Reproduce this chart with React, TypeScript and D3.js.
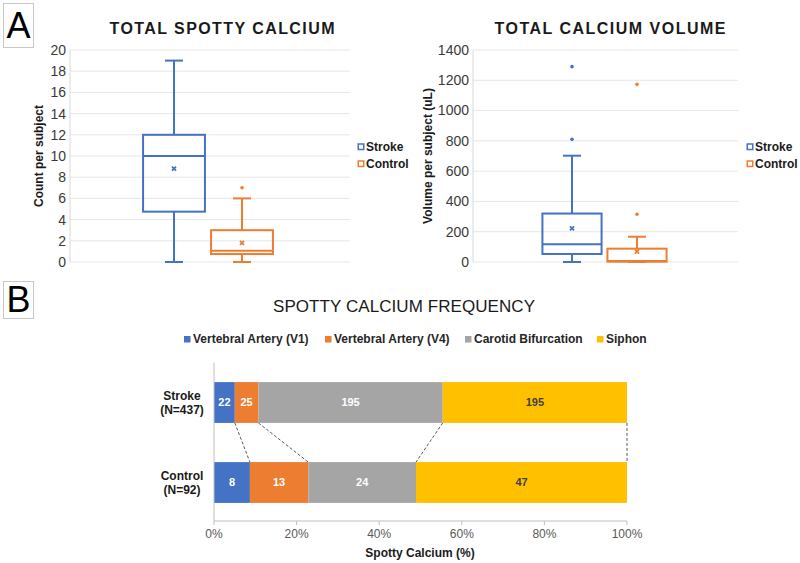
import React from "react";
import * as d3 from "d3";

const groups = ["Stroke", "Control"];
const groupColors = ["#4472C4", "#ED7D31"];

const spottyMin = [0, 0];
const spottyQ1 = [4.75, 0.75];
const spottyMedian = [10, 1.05];
const spottyQ3 = [12, 3];
const spottyMax = [19, 6];
const spottyMean = [8.8, 1.8];
const spottyOutliers: number[][] = [[], [7]];
const spottyTicks = [0, 2, 4, 6, 8, 10, 12, 14, 16, 18, 20];

const volumeMin = [0, 0];
const volumeQ1 = [53, 2];
const volumeMedian = [117, 6];
const volumeQ3 = [320, 88];
const volumeMax = [702, 167];
const volumeMean = [222, 68];
const volumeOutliers: number[][] = [[810, 1290], [315, 1173]];
const volumeTicks = [0, 200, 400, 600, 800, 1000, 1200, 1400];

const freqCategories = ["Stroke", "Control"];
const freqCategoryN = ["(N=437)", "(N=92)"];
const locations = ["Vertebral Artery (V1)", "Vertebral Artery (V4)", "Carotid Bifurcation", "Siphon"];
const locationColors = ["#4472C4", "#ED7D31", "#A5A5A5", "#FFC000"];
const locationLabelColors = ["#ffffff", "#ffffff", "#ffffff", "#404040"];
const strokeCounts = [22, 25, 195, 195];
const controlCounts = [8, 13, 24, 47];
const percentTicks = [0, 0.2, 0.4, 0.6, 0.8, 1];

const FONT = "'Liberation Sans', Arial, Helvetica, sans-serif";

type BoxProps = {
  title: string;
  titleX: number;
  titleWidth: number;
  yLabel: string;
  yLabelX: number;
  left: number;
  right: number;
  top: number;
  bottom: number;
  center: number;
  spacing: number;
  ticks: number[];
  mins: number[];
  q1s: number[];
  medians: number[];
  q3s: number[];
  maxs: number[];
  means: number[];
  outliers: number[][];
  legendX: number;
};

function BoxPanel(p: BoxProps) {
  const y = d3.scaleLinear().domain([0, d3.max(p.ticks) as number]).range([p.bottom, p.top]);
  const x = d3
    .scaleBand<string>()
    .domain(groups)
    .range([p.center - p.spacing, p.center + p.spacing])
    .padding(0);
  const bw = x.bandwidth();
  const boxW = bw * 0.91;
  const capW = 18;
  return (
    <g>
      <text
        x={p.titleX}
        y={34}
        textAnchor="middle"
        fontFamily={FONT}
        fontWeight="bold"
        fontSize={16}
        fill="#1a1a1a"
        textLength={p.titleWidth}
        lengthAdjust="spacing"
      >
        {p.title}
      </text>
      {p.ticks.map((t) => (
        <g key={t}>
          <line x1={p.left} x2={p.right} y1={y(t)} y2={y(t)} stroke="#e6e6e6" strokeWidth={1} />
          <text
            x={p.left - 4}
            y={y(t)}
            dy="0.35em"
            textAnchor="end"
            fontFamily={FONT}
            fontSize={14}
            fill="#3a3a3a"
          >
            {t}
          </text>
        </g>
      ))}
      <line x1={p.left} x2={p.left} y1={p.top} y2={p.bottom} stroke="#d9d9d9" strokeWidth={1} />
      <text
        transform={`translate(${p.yLabelX},${(p.top + p.bottom) / 2}) rotate(-90)`}
        textAnchor="middle"
        dy="0.35em"
        fontFamily={FONT}
        fontWeight="bold"
        fontSize={12}
        fill="#1a1a1a"
      >
        {p.yLabel}
      </text>
      {groups.map((g, i) => {
        const cx = (x(g) as number) + bw / 2;
        const c = groupColors[i];
        const m = y(p.means[i]);
        return (
          <g key={g} stroke={c} fill="none" strokeWidth={2}>
            <line x1={cx} x2={cx} y1={y(p.q3s[i])} y2={y(p.maxs[i])} />
            <line x1={cx} x2={cx} y1={y(p.q1s[i])} y2={y(p.mins[i])} />
            <line x1={cx - capW / 2} x2={cx + capW / 2} y1={y(p.maxs[i])} y2={y(p.maxs[i])} />
            <line x1={cx - capW / 2} x2={cx + capW / 2} y1={y(p.mins[i])} y2={y(p.mins[i])} />
            <rect
              x={cx - boxW / 2}
              y={y(p.q3s[i])}
              width={boxW}
              height={y(p.q1s[i]) - y(p.q3s[i])}
            />
            <line x1={cx - boxW / 2} x2={cx + boxW / 2} y1={y(p.medians[i])} y2={y(p.medians[i])} />
            <path d={`M${cx - 2},${m - 2}L${cx + 2},${m + 2}M${cx - 2},${m + 2}L${cx + 2},${m - 2}`} strokeWidth={1.8} />
            {p.outliers[i].map((o, k) => (
              <circle key={k} cx={cx} cy={y(o)} r={1.8} fill={c} stroke="none" />
            ))}
          </g>
        );
      })}
      {groups.map((g, i) => (
        <g key={"leg" + g}>
          <rect
            x={p.legendX + 0.75}
            y={144 + i * 17}
            width={5.5}
            height={5.5}
            fill="none"
            stroke={groupColors[i]}
            strokeWidth={1.5}
          />
          <text
            x={p.legendX + 8.5}
            y={147 + i * 17}
            dy="0.35em"
            fontFamily={FONT}
            fontWeight="bold"
            fontSize={12}
            fill="#1a1a1a"
          >
            {g}
          </text>
        </g>
      ))}
    </g>
  );
}

function FrequencyPanel() {
  const x = d3.scaleLinear().domain([0, 1]).range([214, 627]);
  const y = d3.scalePoint<string>().domain(freqCategories).range([362.5, 522.5]).padding(0.5);
  const barH = y.step() * 0.51;
  const rows = [strokeCounts, controlCounts];
  const stacks = rows.map((counts) => {
    const total = d3.sum(counts);
    let acc = 0;
    return counts.map((v) => {
      const s = acc / total;
      acc += v;
      return { v, s, e: acc / total };
    });
  });
  const legendXs = [184, 325, 465, 597];
  const yS = y("Stroke") as number;
  const yC = y("Control") as number;
  return (
    <g>
      <text
        x={404}
        y={312}
        textAnchor="middle"
        fontFamily={FONT}
        fontSize={17}
        fill="#1a1a1a"
        textLength={262}
        lengthAdjust="spacing"
      >
        SPOTTY CALCIUM FREQUENCY
      </text>
      {locations.map((l, i) => (
        <g key={l}>
          <rect x={legendXs[i]} y={336} width={6.5} height={6.5} fill={locationColors[i]} />
          <text
            x={legendXs[i] + 9}
            y={339}
            dy="0.35em"
            fontFamily={FONT}
            fontWeight="bold"
            fontSize={12}
            fill="#262626"
          >
            {l}
          </text>
        </g>
      ))}
      {freqCategories.map((c, r) => {
        const cy = y(c) as number;
        return (
          <g key={c}>
            {stacks[r].map((d, i) => (
              <g key={i}>
                <rect
                  x={x(d.s)}
                  y={cy - barH / 2}
                  width={x(d.e) - x(d.s)}
                  height={barH}
                  fill={locationColors[i]}
                />
                <text
                  x={(x(d.s) + x(d.e)) / 2}
                  y={cy}
                  dy="0.35em"
                  textAnchor="middle"
                  fontFamily={FONT}
                  fontWeight="bold"
                  fontSize={11}
                  fill={locationLabelColors[i]}
                >
                  {d.v}
                </text>
              </g>
            ))}
            <text
              x={182}
              y={cy - 7}
              dy="0.35em"
              textAnchor="middle"
              fontFamily={FONT}
              fontWeight="bold"
              fontSize={12}
              fill="#1a1a1a"
            >
              {c}
            </text>
            <text
              x={182}
              y={cy + 7.5}
              dy="0.35em"
              textAnchor="middle"
              fontFamily={FONT}
              fontWeight="bold"
              fontSize={12}
              fill="#1a1a1a"
            >
              {freqCategoryN[r]}
            </text>
          </g>
        );
      })}
      {stacks[0].map((d, i) => (
        <line
          key={"c" + i}
          x1={x(d.e)}
          y1={yS + barH / 2}
          x2={x(stacks[1][i].e)}
          y2={yC - barH / 2}
          stroke="#595959"
          strokeWidth={1}
          strokeDasharray="3,2"
        />
      ))}
      <line x1={214} x2={214} y1={362.5} y2={521} stroke="#bfbfbf" strokeWidth={1} />
      <line x1={214} x2={627} y1={521} y2={521} stroke="#bfbfbf" strokeWidth={1} />
      {percentTicks.map((t) => (
        <g key={t}>
          <line x1={x(t)} x2={x(t)} y1={521} y2={525} stroke="#bfbfbf" strokeWidth={1} />
          <text
            x={x(t)}
            y={538}
            textAnchor="middle"
            fontFamily={FONT}
            fontSize={12}
            fill="#595959"
          >
            {d3.format(".0%")(t)}
          </text>
        </g>
      ))}
      <text
        x={420}
        y={557}
        textAnchor="middle"
        fontFamily={FONT}
        fontWeight="bold"
        fontSize={12}
        fill="#1a1a1a"
      >
        Spotty Calcium (%)
      </text>
    </g>
  );
}

function PanelLetter({ letter, y0, h }: { letter: string; y0: number; h: number }) {
  return (
    <g>
      <rect x={3.5} y={y0 + 0.5} width={30} height={h} fill="#fff" stroke="#c8c8c8" strokeWidth={1} />
      <text
        x={18.5}
        y={y0 + h / 2}
        dy="0.36em"
        textAnchor="middle"
        fontFamily={FONT}
        fontSize={36}
        fill="#000"
      >
        {letter}
      </text>
    </g>
  );
}

export default function App() {
  return (
    <svg
      width={800}
      height={563}
      style={{ position: "absolute", left: 0, top: 0, display: "block", background: "#fff" }}
    >
      <rect x={0} y={0} width={800} height={563} fill="#fff" />
      <PanelLetter letter="A" y0={3} h={44} />
      <PanelLetter letter="B" y0={281} h={37} />
      <BoxPanel
        title="TOTAL SPOTTY CALCIUM"
        titleX={222}
        titleWidth={225}
        yLabel="Count per subject"
        yLabelX={39}
        left={70}
        right={350}
        top={50}
        bottom={262}
        center={208}
        spacing={68}
        ticks={spottyTicks}
        mins={spottyMin}
        q1s={spottyQ1}
        medians={spottyMedian}
        q3s={spottyQ3}
        maxs={spottyMax}
        means={spottyMean}
        outliers={spottyOutliers}
        legendX={357.5}
      />
      <BoxPanel
        title="TOTAL CALCIUM VOLUME"
        titleX={610}
        titleWidth={231}
        yLabel="Volume per subject (uL)"
        yLabelX={428}
        left={473}
        right={738}
        top={50}
        bottom={262}
        center={604.5}
        spacing={65}
        ticks={volumeTicks}
        mins={volumeMin}
        q1s={volumeQ1}
        medians={volumeMedian}
        q3s={volumeQ3}
        maxs={volumeMax}
        means={volumeMean}
        outliers={volumeOutliers}
        legendX={746.5}
      />
      <FrequencyPanel />
    </svg>
  );
}
